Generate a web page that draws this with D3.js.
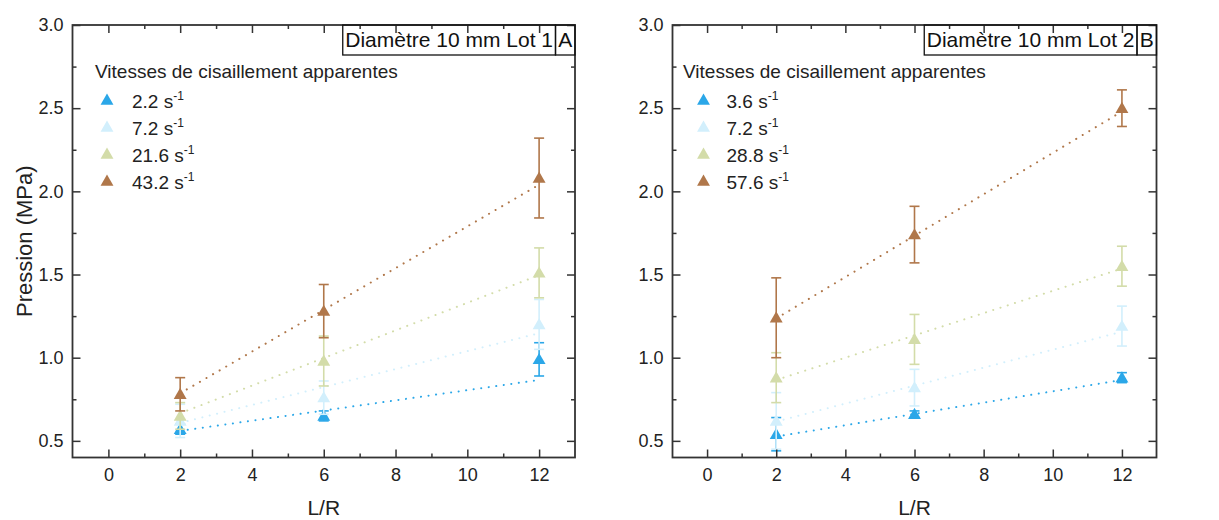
<!DOCTYPE html>
<html>
<head>
<meta charset="utf-8">
<script src="https://cdn.jsdelivr.net/npm/d3@7"></script>
<style>
  html, body { margin: 0; padding: 0; background: #fff; }
  svg { display: block; font-family: "Liberation Sans", Arial, sans-serif; }
</style>
</head>
<body>
<svg id="chart" width="1219" height="520"></svg>
<script>
// ---------- data ----------
const lrValues = [2, 6, 12];
const fitX = [2, 12];
const xTicks = [0, 2, 4, 6, 8, 10, 12];
const xMinorTicks = [1, 3, 5, 7, 9, 11];
const yTicks = [0.5, 1.0, 1.5, 2.0, 2.5, 3.0];
const yMinorTicks = [0.75, 1.25, 1.75, 2.25, 2.75];
const seriesColors = ["#2ba7e8", "#d2effc", "#d3dca9", "#b0774a"];

const legendTitle = "Vitesses de cisaillement apparentes";

// Panel A
const titleA = "Diamètre 10 mm Lot 1";
const letterA = "A";
const ratesA = ["2.2", "7.2", "21.6", "43.2"];
const pressureA = [
  [0.57, 0.65, 0.99],
  [0.62, 0.76, 1.20],
  [0.65, 0.98, 1.51],
  [0.78, 1.28, 2.08]
];
const errorA = [
  [0.03, 0.03, 0.10],
  [0.10, 0.10, 0.15],
  [0.08, 0.15, 0.15],
  [0.10, 0.16, 0.24]
];
const fitA = [
  [0.56, 0.866],
  [0.608, 1.147],
  [0.666, 1.496],
  [0.786, 2.04]
];

// Panel B
const titleB = "Diamètre 10 mm Lot 2";
const letterB = "B";
const ratesB = ["3.6", "7.2", "28.8", "57.6"];
const pressureB = [
  [0.54, 0.66, 0.88],
  [0.62, 0.82, 1.19],
  [0.88, 1.11, 1.55],
  [1.24, 1.74, 2.50]
];
const errorB = [
  [0.10, 0.02, 0.03],
  [0.17, 0.11, 0.12],
  [0.15, 0.15, 0.12],
  [0.24, 0.17, 0.11]
];
const fitB = [
  [0.526, 0.866],
  [0.616, 1.156],
  [0.866, 1.536],
  [1.236, 2.48]
];

// ---------- drawing ----------
const svg = d3.select("#chart");
const axisColor = "#333";

function drawPanel(opts) {
  const { left, right, top, bottom, title, letter, rates, pressure, error, fit,
          legendX, markerDx, textDx, showYTitle } = opts;
  const x = d3.scaleLinear().domain([-1, 13]).range([left, right]);
  const y = d3.scaleLinear().domain([0.4, 3.0]).range([bottom, top]);
  const g = svg.append("g");

  // fit lines (dotted)
  const line = d3.line().x(d => x(d[0])).y(d => y(d[1]));
  fit.forEach((f, i) => {
    g.append("path")
      .datum(fitX.map((xv, j) => [xv, f[j]]))
      .attr("d", line)
      .attr("fill", "none")
      .attr("stroke", seriesColors[i])
      .attr("stroke-width", 2)
      .attr("stroke-linecap", "round")
      .attr("stroke-dasharray", "0.1,7.5");
  });

  // error bars + markers
  const tri = d3.symbol().type(d3.symbolTriangle).size(72);
  pressure.forEach((vals, i) => {
    const c = seriesColors[i];
    const sg = g.append("g");
    vals.forEach((v, j) => {
      const cx = x(lrValues[j]);
      const e = error[i][j];
      const y1 = y(v + e), y2 = y(v - e);
      sg.append("line").attr("x1", cx).attr("x2", cx).attr("y1", y1).attr("y2", y2)
        .attr("stroke", c).attr("stroke-width", 1.6);
      [y1, y2].forEach(yy => {
        sg.append("line").attr("x1", cx - 5).attr("x2", cx + 5).attr("y1", yy).attr("y2", yy)
          .attr("stroke", c).attr("stroke-width", 1.6);
      });
      sg.append("path").attr("d", tri)
        .attr("transform", `translate(${cx},${y(v) + 1})`)
        .attr("fill", c);
    });
  });

  // axes
  const fmt = d3.format(".1f");
  const styleAxis = sel => {
    sel.select(".domain").remove();
    sel.selectAll("line").attr("stroke", axisColor).attr("stroke-width", 1.5);
    sel.selectAll("text").attr("fill", "#222").style("font-size", "18px")
      .style("font-family", "'Liberation Sans', Arial, sans-serif");
  };
  g.append("g").attr("transform", `translate(0,${bottom})`)
    .call(d3.axisBottom(x).tickValues(xTicks).tickSize(-8).tickPadding(11).tickFormat(d3.format("d")))
    .call(styleAxis);
  g.append("g").attr("transform", `translate(0,${bottom})`)
    .call(d3.axisBottom(x).tickValues(xMinorTicks).tickSize(-4).tickFormat(""))
    .call(styleAxis);
  g.append("g").attr("transform", `translate(0,${top})`)
    .call(d3.axisTop(x).tickValues(xTicks).tickSize(-8).tickFormat(""))
    .call(styleAxis);
  g.append("g").attr("transform", `translate(0,${top})`)
    .call(d3.axisTop(x).tickValues(xMinorTicks).tickSize(-4).tickFormat(""))
    .call(styleAxis);
  g.append("g").attr("transform", `translate(${left},0)`)
    .call(d3.axisLeft(y).tickValues(yTicks).tickSize(-8).tickPadding(9).tickFormat(fmt))
    .call(styleAxis);
  g.append("g").attr("transform", `translate(${left},0)`)
    .call(d3.axisLeft(y).tickValues(yMinorTicks).tickSize(-4).tickFormat(""))
    .call(styleAxis);
  g.append("g").attr("transform", `translate(${right},0)`)
    .call(d3.axisRight(y).tickValues(yTicks).tickSize(-8).tickFormat(""))
    .call(styleAxis);
  g.append("g").attr("transform", `translate(${right},0)`)
    .call(d3.axisRight(y).tickValues(yMinorTicks).tickSize(-4).tickFormat(""))
    .call(styleAxis);

  // frame
  g.append("rect").attr("x", left).attr("y", top).attr("width", right - left).attr("height", bottom - top)
    .attr("fill", "none").attr("stroke", axisColor).attr("stroke-width", 1.8);

  // axis titles
  g.append("text").attr("x", (left + right) / 2).attr("y", 515).attr("text-anchor", "middle")
    .style("font-size", "21px").attr("fill", "#222").text("L/R");
  if (showYTitle) {
    g.append("text").attr("transform", `translate(32,${(top + bottom) / 2}) rotate(-90)`)
      .attr("text-anchor", "middle").style("font-size", "22px").attr("fill", "#222").text("Pression (MPa)");
  }

  // title box
  const letterW = 19.5;
  const tb = g.append("g");
  const tText = tb.append("text").attr("y", top + 22).style("font-size", "21px").attr("fill", "#111").text(title);
  const tw = tText.node().getComputedTextLength();
  const boxRight = right - letterW;
  const boxLeft = boxRight - tw - 5;
  tText.attr("x", boxLeft + 2.5);
  tb.append("rect").attr("x", boxLeft).attr("y", top).attr("width", boxRight - boxLeft).attr("height", 30)
    .attr("fill", "none").attr("stroke", "#111").attr("stroke-width", 1.3);
  tb.append("rect").attr("x", boxRight).attr("y", top).attr("width", letterW).attr("height", 30)
    .attr("fill", "none").attr("stroke", "#111").attr("stroke-width", 1.3);
  tb.append("text").attr("x", boxRight + letterW / 2).attr("y", top + 22).attr("text-anchor", "middle")
    .style("font-size", "21px").attr("fill", "#111").text(letter);

  // legend
  const lg = g.append("g");
  lg.append("text").attr("x", legendX).attr("y", 78).style("font-size", "19px").attr("fill", "#222").text(legendTitle);
  rates.forEach((r, i) => {
    const yy = 101 + i * 27;
    lg.append("path").attr("d", tri).attr("transform", `translate(${legendX + markerDx},${yy})`).attr("fill", seriesColors[i]);
    const t = lg.append("text").attr("x", legendX + textDx).attr("y", yy + 6.5).style("font-size", "19px").attr("fill", "#222");
    t.append("tspan").text(r + " s");
    t.append("tspan").attr("dy", -8).style("font-size", "12px").text("-1");
  });
}

drawPanel({ left: 72.5, right: 575, top: 25, bottom: 457.5, title: titleA, letter: letterA,
  rates: ratesA, pressure: pressureA, error: errorA, fit: fitA,
  legendX: 95, markerDx: 12, textDx: 37, showYTitle: true });
drawPanel({ left: 672.5, right: 1156.5, top: 25, bottom: 457.5, title: titleB, letter: letterB,
  rates: ratesB, pressure: pressureB, error: errorB, fit: fitB,
  legendX: 683, markerDx: 20.5, textDx: 43.5, showYTitle: false });
</script>
</body>
</html>
